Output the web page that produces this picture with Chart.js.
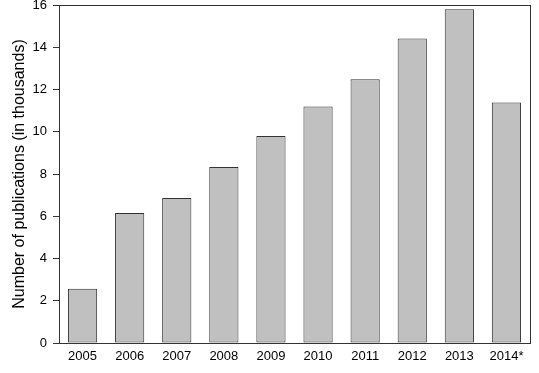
<!DOCTYPE html>
<html>
<head>
<meta charset="utf-8">
<script src="https://cdn.jsdelivr.net/npm/chart.js@4"></script>
<style>
  body { margin: 0; background: #fff; }
  canvas { display: block; }
</style>
</head>
<body>
<canvas id="pubCanvas" width="539" height="373"></canvas>
<script>
// publications per year
var years = ['2005', '2006', '2007', '2008', '2009', '2010', '2011', '2012', '2013', '2014*'];
var publications = [2.57, 6.15, 6.86, 8.33, 9.8, 11.2, 12.48, 14.42, 15.8, 11.39];
var yTicks = [0, 2, 4, 6, 8, 10, 12, 14, 16];

// box around the plot area
var frame = {
    id: 'frame',
    afterDraw: function (chart) {
        var a = chart.chartArea;
        var ctx = chart.ctx;
        ctx.save();
        ctx.strokeStyle = '#333';
        ctx.lineWidth = 1;
        ctx.strokeRect(Math.round(a.left) + 0.5, Math.round(a.top) + 0.5,
            Math.round(a.right - a.left), Math.round(a.bottom - a.top));
        ctx.restore();
    }
};

function pubGraph() {
    var ctx = document.getElementById('pubCanvas').getContext('2d');
    var chart = new Chart(ctx, {
        type: 'bar',
        data: {
            labels: years,
            datasets: [{
                data: publications,
                backgroundColor: '#c0c0c0',
                borderColor: '#333',
                borderWidth: 1,
                borderSkipped: false,
                barPercentage: 0.62,
                categoryPercentage: 1
            }]
        },
        options: {
            responsive: false,
            animation: false,
            layout: { padding: { top: 5, right: 9, left: 0, bottom: 0 } },
            plugins: { legend: { display: false }, tooltip: { enabled: false } },
            scales: {
                x: {
                    grid: { display: false, drawTicks: false },
                    border: { display: true, color: '#333' },
                    ticks: { color: '#000', padding: 6, font: { family: 'Liberation Sans', size: 13 } },
                    afterFit: function (s) { s.height = 30; }
                },
                y: {
                    min: 0,
                    max: 16,
                    afterBuildTicks: function (s) { s.ticks = yTicks.map(function (v) { return { value: v }; }); },
                    grid: { drawOnChartArea: false, drawTicks: true, tickLength: 6, color: '#333' },
                    border: { display: true, color: '#333' },
                    ticks: { color: '#000', padding: 6, font: { family: 'Liberation Sans', size: 13 } },
                    title: {
                        display: true,
                        text: 'Number of publications (in thousands)',
                        color: '#000',
                        font: { family: 'Liberation Sans', size: 16 },
                        padding: { top: 10, bottom: 0 }
                    },
                    afterFit: function (s) {
                        s.width = 59;
                        s.paddingTop = 0;
                        s.paddingBottom = 0;
                    }
                }
            }
        },
        plugins: [frame]
    });
}

pubGraph();
</script>
</body>
</html>
